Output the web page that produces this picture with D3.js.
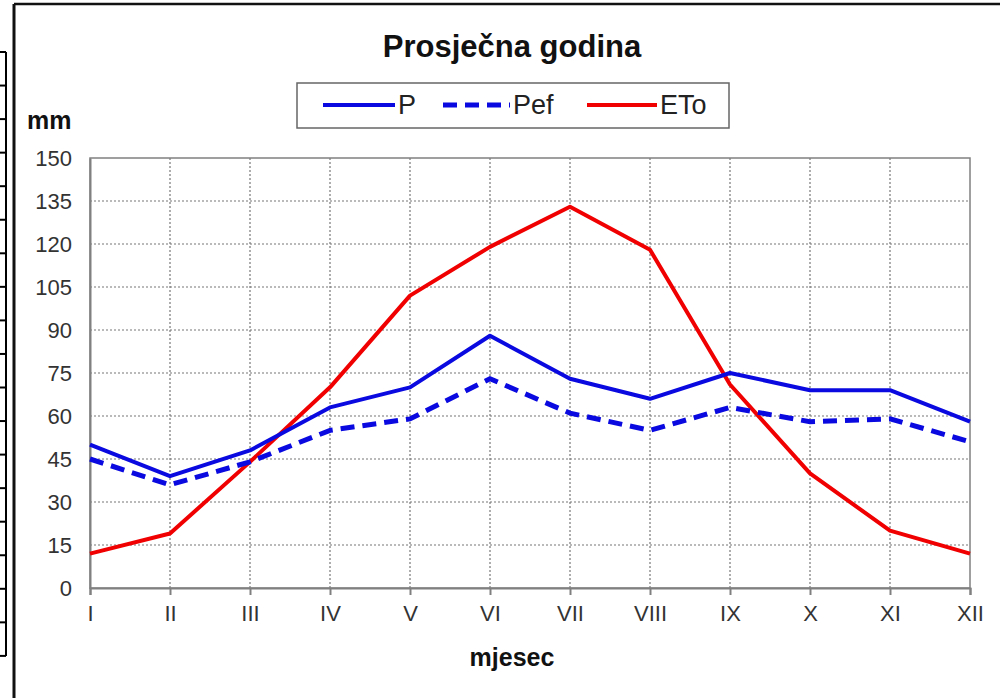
<!DOCTYPE html>
<html>
<head>
<meta charset="utf-8">
<script src="https://cdn.jsdelivr.net/npm/d3@7"></script>
<style>
  body { margin: 0; background: #fff; }
  text { font-family: "Liberation Sans", Arial, sans-serif; }
</style>
</head>
<body>
<script>
// Data
var months = ["I", "II", "III", "IV", "V", "VI", "VII", "VIII", "IX", "X", "XI", "XII"];
var pValues = [50, 39, 48, 63, 70, 88, 73, 66, 75, 69, 69, 58];
var pefValues = [45, 36, 44, 55, 59, 73, 61, 55, 63, 58, 59, 51];
var etoValues = [12, 19, 44, 70, 102, 119, 133, 118, 71, 40, 20, 12];
var yTicks = [0, 15, 30, 45, 60, 75, 90, 105, 120, 135, 150];

var svgWidth = 1000;
var svgHeight = 698;

var margin = { top: 158, right: 30, bottom: 110, left: 90 };
var chartWidth = svgWidth - margin.left - margin.right;
var chartHeight = svgHeight - margin.top - margin.bottom;

var svg = d3.select("body")
  .append("svg")
  .attr("width", svgWidth)
  .attr("height", svgHeight);

// outer frame (left + top borders visible)
svg.append("line").attr("x1", 14).attr("y1", 4).attr("x2", 1000).attr("y2", 4)
  .attr("stroke", "#111").attr("stroke-width", 2.5);
svg.append("line").attr("x1", 14).attr("y1", 4).attr("x2", 14).attr("y2", 698)
  .attr("stroke", "#111").attr("stroke-width", 3);

// leftover table lines on the far left
svg.append("line").attr("x1", 6).attr("y1", 52).attr("x2", 6).attr("y2", 656)
  .attr("stroke", "#000").attr("stroke-width", 2);
d3.range(52, 660, 33.55).forEach(function(y) {
  svg.append("line").attr("x1", 0).attr("y1", y).attr("x2", 6).attr("y2", y)
    .attr("stroke", "#000").attr("stroke-width", 2);
});

var chartGroup = svg.append("g")
  .attr("transform", `translate(${margin.left}, ${margin.top})`);

var xScale = d3.scalePoint()
  .domain(months)
  .range([0, chartWidth]);

var yScale = d3.scaleLinear()
  .domain([0, 150])
  .range([chartHeight, 0]);

// grid lines
chartGroup.append("g")
  .selectAll("line")
  .data(yTicks.slice(1, -1))
  .enter()
  .append("line")
  .attr("x1", 0).attr("x2", chartWidth)
  .attr("y1", d => yScale(d)).attr("y2", d => yScale(d))
  .attr("stroke", "#777").attr("stroke-width", 1.2).attr("stroke-dasharray", "2,2");

chartGroup.append("g")
  .selectAll("line")
  .data(months.slice(1, -1))
  .enter()
  .append("line")
  .attr("x1", d => xScale(d)).attr("x2", d => xScale(d))
  .attr("y1", 0).attr("y2", chartHeight)
  .attr("stroke", "#777").attr("stroke-width", 1.2).attr("stroke-dasharray", "2,2");

// plot border
chartGroup.append("rect")
  .attr("x", 0).attr("y", 0)
  .attr("width", chartWidth).attr("height", chartHeight)
  .attr("fill", "none").attr("stroke", "#808080").attr("stroke-width", 1.5);

// axes
var bottomAxis = d3.axisBottom(xScale).tickSize(7).tickPadding(10);
var leftAxis = d3.axisLeft(yScale).tickValues(yTicks).tickSize(0).tickPadding(18);

var xAxisG = chartGroup.append("g")
  .attr("transform", `translate(0, ${chartHeight})`)
  .call(bottomAxis);
xAxisG.select(".domain").attr("stroke", "#808080").attr("stroke-width", 2);
xAxisG.selectAll(".tick line").attr("stroke", "#808080").attr("stroke-width", 2);
xAxisG.selectAll("text").attr("font-size", 22).attr("fill", "#333")
  .attr("font-family", "'Liberation Sans', Arial, sans-serif");

var yAxisG = chartGroup.append("g").call(leftAxis);
yAxisG.select(".domain").attr("stroke", "#808080").attr("stroke-width", 2);
yAxisG.selectAll("text").attr("font-size", 22).attr("fill", "#333")
  .attr("font-family", "'Liberation Sans', Arial, sans-serif");

// lines
var line = d3.line()
  .x((d, i) => xScale(months[i]))
  .y(d => yScale(d));

chartGroup.append("path").datum(etoValues)
  .attr("d", line).attr("fill", "none")
  .attr("stroke", "#f00000").attr("stroke-width", 4).attr("stroke-linejoin", "round");

chartGroup.append("path").datum(pValues)
  .attr("d", line).attr("fill", "none")
  .attr("stroke", "#0a0ae0").attr("stroke-width", 4).attr("stroke-linejoin", "round");

chartGroup.append("path").datum(pefValues)
  .attr("d", line).attr("fill", "none")
  .attr("stroke", "#0a0ae0").attr("stroke-width", 5).attr("stroke-dasharray", "14,8");

// title and axis labels
svg.append("text")
  .attr("x", 512).attr("y", 57)
  .attr("text-anchor", "middle")
  .attr("font-size", 31).attr("font-weight", "bold").attr("fill", "#111")
  .text("Prosječna godina");

svg.append("text")
  .attr("x", 27).attr("y", 129)
  .attr("font-size", 25).attr("font-weight", "bold").attr("fill", "#111")
  .text("mm");

svg.append("text")
  .attr("x", 512).attr("y", 666)
  .attr("text-anchor", "middle")
  .attr("font-size", 25).attr("font-weight", "bold").attr("fill", "#111")
  .text("mjesec");

// legend
var legend = svg.append("g");
legend.append("rect")
  .attr("x", 297).attr("y", 83).attr("width", 432).attr("height", 45)
  .attr("fill", "#fff").attr("stroke", "#666").attr("stroke-width", 1.5);

var legendItems = [
  { name: "P", color: "#0a0ae0", dash: null, x1: 323, x2: 395 },
  { name: "Pef", color: "#0a0ae0", dash: "14,8", x1: 443, x2: 510 },
  { name: "ETo", color: "#f00000", dash: null, x1: 587, x2: 657 }
];

legendItems.forEach(function(d) {
  legend.append("line")
    .attr("x1", d.x1).attr("x2", d.x2).attr("y1", 105).attr("y2", 105)
    .attr("stroke", d.color).attr("stroke-width", d.dash ? 5 : 4)
    .attr("stroke-dasharray", d.dash);
  legend.append("text")
    .attr("x", d.x2 + 3).attr("y", 114)
    .attr("font-size", 27).attr("fill", "#222")
    .text(d.name);
});
</script>
</body>
</html>
